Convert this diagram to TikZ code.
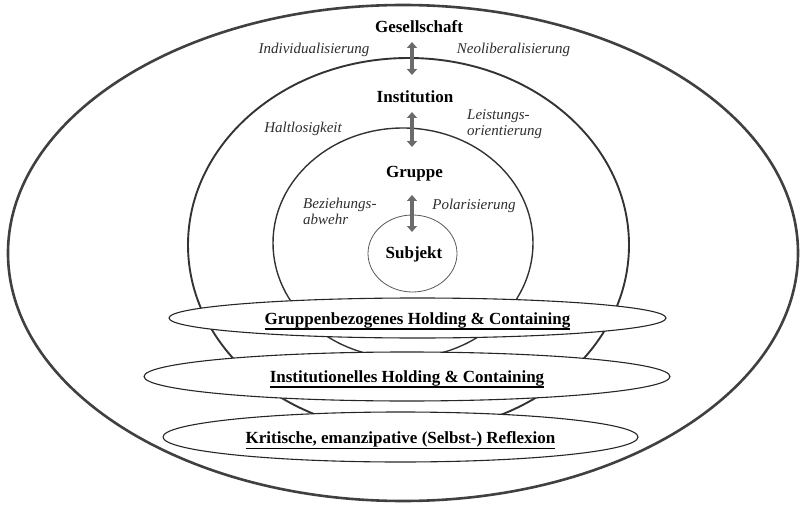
\documentclass[tikz,border=0pt]{standalone}
\usepackage{fontspec}
\setmainfont{Liberation Serif}
\usetikzlibrary{shapes.geometric,arrows.meta}
\newcommand\bandul[1]{\leavevmode\vtop{\hbox{#1}\kern0.6pt\hrule height 1.3pt}}
\begin{document}
\begin{tikzpicture}[x=1pt,y=-1pt,
  ring/.style={draw, ellipse, inner sep=0pt, outer sep=0pt},
  band/.style={draw=black!85, fill=white, ellipse, line width=1.1pt, inner sep=0pt, outer sep=0pt},
  lvl/.style={font=\fontsize{17}{20}\selectfont\bfseries, anchor=base, inner sep=0pt},
  infl/.style={font=\fontsize{15}{17}\selectfont\itshape, text=black!82, anchor=base, inner sep=0pt},
  inflL/.style={infl, anchor=base west},
  bandtext/.style={font=\fontsize{17}{20}\selectfont\bfseries, anchor=base, inner sep=0pt},
  dblarrow/.style={draw=black!58, line width=4pt, {Triangle[width=10pt,length=6pt]}-{Triangle[width=10pt,length=6pt]}}
]
\useasboundingbox (0,0) rectangle (800,505);

% rings
\node[ring, line width=2.6pt, draw=black!75, minimum width=790pt, minimum height=496pt] (gesring) at (403,253) {};
\node[ring, line width=1.9pt, draw=black!80, minimum width=441pt, minimum height=374pt] (instring) at (408.5,245) {};
\node[ring, line width=1.4pt, draw=black!80, minimum width=260pt, minimum height=230pt] (grring) at (403,243) {};
\node[ring, line width=0.8pt, draw=black!65, minimum width=89pt, minimum height=77pt] (subring) at (412.5,253.5) {};

% bands
\node[band, minimum width=497pt, minimum height=40pt] (band1) at (417.5,318) {};
\node[band, minimum width=526pt, minimum height=49pt] (band2) at (407,376.5) {};
\node[band, minimum width=475pt, minimum height=50pt] (band3) at (400.5,437) {};

\node[bandtext] (t1) at (417.5,324) {\bandul{Gruppenbezogenes Holding \& Containing}};
\node[bandtext] (t2) at (407,382) {\bandul{Institutionelles Holding \& Containing}};
\node[bandtext] (t3) at (400.5,443.5) {\bandul{Kritische, emanzipative (Selbst-) Reflexion}};

% level labels
\node[lvl] (ges) at (419,33) {Gesellschaft};
\node[lvl] (inst) at (415,102.5) {Institution};
\node[lvl] (grp) at (414.5,178) {Gruppe};
\node[lvl] (sub) at (414,258) {Subjekt};

% influence labels
\node[infl] (indiv) at (314,54) {Individualisierung};
\node[infl] (neolib) at (513.5,54) {Neoliberalisierung};
\node[infl] (halt) at (303,133) {Haltlosigkeit};
\node[inflL] (leist1) at (467,120) {Leistungs-};
\node[inflL] (leist2) at (467,136) {orientierung};
\node[inflL] (bez1) at (303,208) {Beziehungs-};
\node[inflL] (bez2) at (303,224) {abwehr};
\node[infl] (polar) at (474,210) {Polarisierung};

% arrows
\coordinate (a1t) at (412,42);
\coordinate (a1b) at (412,75);
\coordinate (a2t) at (412,112);
\coordinate (a2b) at (412,147);
\coordinate (a3t) at (412,195);
\coordinate (a3b) at (412,232);
\draw[dblarrow] (a1t) -- (a1b);
\draw[dblarrow] (a2t) -- (a2b);
\draw[dblarrow] (a3t) -- (a3b);
\end{tikzpicture}
\end{document}
